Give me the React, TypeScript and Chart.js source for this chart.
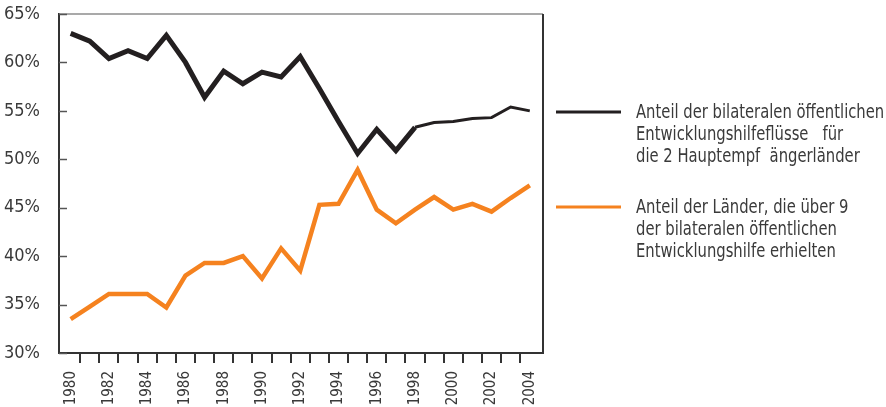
import React, { useEffect, useRef } from 'react';
import { Chart, registerables } from 'chart.js';

Chart.register(...registerables);

const years = [
  1980, 1981, 1982, 1983, 1984, 1985, 1986, 1987, 1988, 1989, 1990, 1991, 1992,
  1993, 1994, 1995, 1996, 1997, 1998, 1999, 2000, 2001, 2002, 2003, 2004,
];

const bilateralShareTop2 = [
  63.0, 62.2, 60.4, 61.2, 60.4, 62.8, 60.0, 56.4, 59.1, 57.8, 59.0, 58.5, 60.6,
  57.3, 53.9, 50.6, 53.1, 50.9, 53.3, 53.8, 53.9, 54.2, 54.3, 55.4, 55.0,
];

const countriesOver9 = [
  33.5, 34.8, 36.1, 36.1, 36.1, 34.7, 38.0, 39.3, 39.3, 40.0, 37.7, 40.8, 38.5,
  45.3, 45.4, 48.9, 44.8, 43.4, 44.8, 46.1, 44.8, 45.4, 44.6, 46.0, 47.3,
];

const labelTop2 = [
  'Anteil der bilateralen öffentlichen',
  'Entwicklungshilfeflüsse   für',
  'die 2 Hauptempf  ängerländer',
];

const labelOver9 = [
  'Anteil der Länder, die über 9',
  'der bilateralen öffentlichen',
  'Entwicklungshilfe erhielten',
];

const yTickValues = [30, 35, 40, 45, 50, 55, 60, 65];

const FONT = '"Liberation Sans Narrow", "DejaVu Sans Condensed", "Liberation Sans", sans-serif';
const TEXT = '#3a3a3a';

const decorPlugin = {
  id: 'decor',
  afterDraw(chart: any) {
    const { ctx, chartArea: a, scales } = chart;
    ctx.save();
    // top border
    ctx.strokeStyle = '#8c8c8c';
    ctx.lineWidth = 1.5;
    ctx.beginPath();
    ctx.moveTo(a.left, a.top);
    ctx.lineTo(a.right, a.top);
    ctx.stroke();
    // right border
    ctx.strokeStyle = '#333';
    ctx.lineWidth = 2;
    ctx.beginPath();
    ctx.moveTo(a.right, a.top);
    ctx.lineTo(a.right, a.bottom);
    ctx.stroke();
    // inner y ticks
    ctx.strokeStyle = '#555';
    ctx.lineWidth = 1.5;
    scales.y.ticks.forEach((t: any) => {
      const py = Math.round(scales.y.getPixelForValue(t.value)) + 0.5;
      ctx.beginPath();
      ctx.moveTo(a.left, py);
      ctx.lineTo(a.left + 8, py);
      ctx.stroke();
    });
    // legend
    const legendX = a.right + 13;
    const tops = [112, 207];
    const lineH = 22;
    chart.data.datasets.forEach((ds: any, i: number) => {
      const y0 = tops[i];
      ctx.strokeStyle = ds.borderColor;
      ctx.lineWidth = 3;
      ctx.beginPath();
      ctx.moveTo(legendX, y0);
      ctx.lineTo(legendX + 65, y0);
      ctx.stroke();
      ctx.fillStyle = TEXT;
      ctx.font = `19px ${FONT}`;
      ctx.textBaseline = 'middle';
      ctx.textAlign = 'left';
      (ds.legendLines as string[]).forEach((s, k) => {
        ctx.save();
        ctx.translate(legendX + 80, y0 + 1 + k * lineH);
        ctx.scale(0.865, 1);
        ctx.fillText(s, 0, 0);
        ctx.restore();
      });
    });
    ctx.restore();
  },
};

export default function App() {
  const ref = useRef<HTMLCanvasElement>(null);

  useEffect(() => {
    if (!ref.current) return;
    const xTicks: { value: number }[] = [];
    years.forEach((yr, i) => {
      xTicks.push({ value: yr });
      if (i < years.length - 1) xTicks.push({ value: yr + 0.5 });
    });

    const chart = new Chart(ref.current, {
      type: 'line',
      data: {
        datasets: [
          {
            label: labelTop2.join(' '),
            legendLines: labelTop2,
            data: years.map((yr, i) => ({ x: yr, y: bilateralShareTop2[i] })),
            borderColor: '#231f20',
            borderWidth: 5,
            segment: {
              borderWidth: (c: any) => (c.p0.parsed.x >= 1998 ? 3 : 5),
            },
            pointRadius: 0,
            tension: 0,
            borderJoinStyle: 'miter',
            borderCapStyle: 'butt',
          } as any,
          {
            label: labelOver9.join(' '),
            legendLines: labelOver9,
            data: years.map((yr, i) => ({ x: yr, y: countriesOver9[i] })),
            borderColor: '#f5821f',
            borderWidth: 4.5,
            pointRadius: 0,
            tension: 0,
            borderJoinStyle: 'miter',
            borderCapStyle: 'butt',
          } as any,
        ],
      },
      options: {
        animation: false,
        responsive: false,
        maintainAspectRatio: false,
        layout: { padding: { top: 14, right: 343, left: 0, bottom: 0 } },
        plugins: { legend: { display: false }, tooltip: { enabled: false } },
        scales: {
          x: {
            type: 'linear',
            min: 1979.39,
            max: 2004.69,
            afterBuildTicks: (scale: any) => {
              scale.ticks = xTicks.map((t) => ({ ...t }));
            },
            afterFit: (scale: any) => {
              scale.height = 54;
              scale.paddingLeft = 0;
              scale.paddingRight = 0;
            },
            grid: {
              drawOnChartArea: false,
              drawTicks: true,
              tickLength: 10,
              lineWidth: 2,
              color: (c: any) =>
                c.tick && !Number.isInteger(c.tick.value) ? '#333' : 'rgba(0,0,0,0)',
            },
            border: { display: true, color: '#333', width: 2 },
            ticks: {
              autoSkip: false,
              maxRotation: 90,
              minRotation: 90,
              padding: 8,
              color: TEXT,
              font: { family: FONT, size: 15 },
              callback: (v: any) => {
                const n = Number(v);
                return Number.isInteger(n) && years.includes(n) && n % 2 === 0 ? String(n) : '';
              },
            },
          },
          y: {
            type: 'linear',
            min: 30,
            max: 65,
            afterBuildTicks: (scale: any) => {
              scale.ticks = yTickValues.map((v) => ({ value: v }));
            },
            afterFit: (scale: any) => {
              scale.width = 59;
              scale.paddingTop = 0;
              scale.paddingBottom = 0;
            },
            grid: { drawOnChartArea: false, drawTicks: false },
            border: { display: true, color: '#333', width: 2 },
            ticks: {
              padding: 19,
              color: TEXT,
              font: { family: FONT, size: 18 },
              callback: (v: any) => `${v}%`,
            },
          },
        },
      } as any,
      plugins: [decorPlugin],
    });
    return () => chart.destroy();
  }, []);

  return (
    <div style={{ position: 'fixed', left: 0, top: 0, width: 886, height: 407, background: '#fff' }}>
      <canvas ref={ref} width={886} height={407} style={{ display: 'block' }} />
    </div>
  );
}
